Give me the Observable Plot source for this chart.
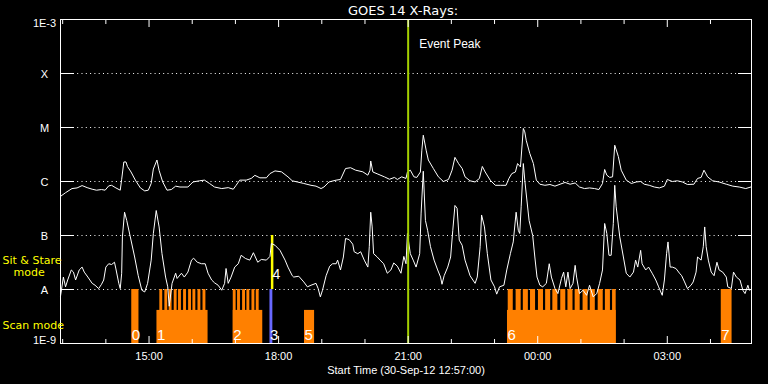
<!DOCTYPE html>
<html>
<head>
<meta charset="utf-8">
<script src="https://cdn.jsdelivr.net/npm/d3@7"></script>
<script src="https://cdn.jsdelivr.net/npm/@observablehq/plot@0.6"></script>
<style>
  html, body { margin: 0; padding: 0; background: #000; }
  #chart { width: 768px; height: 384px; overflow: hidden; }
</style>
</head>
<body>
<div id="chart"></div>
<script>
// ---------- DATA ----------
// Start time of the plot (UTC) and its span in minutes
const startTime = Date.UTC(2012, 8, 30, 12, 57);
const spanMinutes = 960;
const eventPeakMinute = 483; // 21:00

// GOES 14 long channel (1-8 Å), minutes after start / flux W m^-2
const longMinutes = [
  0,7,16,23,30,37,44,50,57,62,
  67,71,77,83,85,88,91,93,98,104,
  111,117,122,126,129,134,137,142,148,154,
  160,166,177,184,193,200,207,214,224,233,
  240,244,249,258,265,270,277,286,291,298,
  307,316,322,329,338,348,355,362,366,373,
  383,389,396,403,410,420,427,430,431,434,
  441,450,457,464,468,474,480,482,486,491,
  495,500,502,504,508,511,518,525,532,539,
  544,548,553,558,562,569,576,582,586,590,
  597,604,611,619,623,627,632,635,639,643,
  645,647,652,657,661,666,673,680,687,694,
  701,708,715,721,728,735,742,748,753,756,
  759,763,767,770,775,779,786,793,800,806,
  811,818,825,832,839,843,850,857,864,871,
  880,885,890,894,899,906,915,925,934,943,
  952,959
];
const longFlux = [
  5.3e-7,6.2e-7,7.4e-7,7.6e-7,8.4e-7,7.7e-7,7.2e-7,6.9e-7,7.1e-7,6.9e-7,
  8.3e-7,8.5e-7,7.6e-7,6.9e-7,1.1e-6,2.3e-6,2.3e-6,1.9e-6,1.5e-6,1.06e-6,
  7.6e-7,6.7e-7,6.9e-7,9.2e-7,1.7e-6,2.5e-6,1.6e-6,9.8e-7,6.9e-7,7.1e-7,
  8.2e-7,7.9e-7,7.9e-7,9.8e-7,1.03e-6,1.06e-6,9.2e-7,7.9e-7,7.4e-7,7.7e-7,
  7.2e-7,8.5e-7,1.06e-6,1.06e-6,1.14e-6,1.3e-6,1.17e-6,1.17e-6,1.4e-6,1.57e-6,
  1.51e-6,1.22e-6,1.03e-6,9.8e-7,9.2e-7,8.5e-7,8.2e-7,7.4e-7,7.9e-7,9.8e-7,
  1.06e-6,1.09e-6,1.74e-6,1.8e-6,1.62e-6,1.51e-6,1.31e-6,1.62e-6,2.4e-6,1.5e-6,
  1.37e-6,1.22e-6,1.1e-6,1.19e-6,1.09e-6,1.22e-6,1.14e-6,1.5e-6,1.62e-6,1.22e-6,
  1.19e-6,1.5e-6,3.8e-6,7.2e-6,3.8e-6,2.5e-6,1.74e-6,1.22e-6,1.0e-6,1.09e-6,
  1.62e-6,2.8e-6,2.15e-6,1.74e-6,1.22e-6,1.03e-6,9.8e-7,1.14e-6,1.9e-6,1.5e-6,
  1.06e-6,8.5e-7,8.5e-7,8.5e-7,1.14e-6,1.4e-6,1.5e-6,2.15e-6,1.86e-6,9.6e-6,
  8.3e-6,5.8e-6,3.3e-6,2.15e-6,1.06e-6,8.9e-7,8.5e-7,8.8e-7,8.2e-7,8.9e-7,
  9.6e-7,8.9e-7,9.4e-7,7.9e-7,7.4e-7,7.6e-7,7.4e-7,7.1e-7,9.2e-7,1.67e-6,
  1.31e-6,1.19e-6,1.22e-6,4.7e-6,2.9e-6,1.62e-6,1.06e-6,9.2e-7,9.8e-7,1.0e-6,
  8.9e-7,8.5e-7,7.9e-7,7.6e-7,8.2e-7,1.09e-6,1.0e-6,1.03e-6,9.8e-7,8.8e-7,
  8.9e-7,1.14e-6,1.19e-6,1.62e-6,1.22e-6,1.03e-6,9.8e-7,8.9e-7,8.2e-7,7.9e-7,
  7.4e-7,7.9e-7
];

// GOES 14 short channel (0.5-4 Å)
const shortMinutes = [
  0,4,7,10,15,18,21,26,30,33,
  38,44,48,53,57,60,63,67,71,75,
  77,81,83,85,86,89,92,97,103,108,
  113,117,121,126,129,133,137,141,146,149,
  151,155,160,162,168,172,177,182,185,190,
  196,201,205,210,214,219,224,228,230,233,
  237,242,247,251,257,263,268,274,279,286,
  291,293,298,305,312,316,322,324,331,338,
  343,348,355,358,361,364,369,374,378,383,
  385,389,393,396,401,406,408,413,417,422,
  427,429,431,433,435,440,444,449,454,459,
  463,468,473,477,480,482,486,490,494,499,
  501,504,507,510,514,519,524,528,530,533,
  538,542,545,548,551,554,558,562,569,576,
  579,583,585,589,593,598,603,606,610,616,
  620,625,629,633,636,638,640,643,645,646,
  651,656,659,662,666,670,675,679,682,687,
  691,696,699,702,705,708,712,715,717,721,
  726,731,735,740,745,749,753,756,759,762,
  765,768,770,772,777,782,786,791,796,799,
  802,806,808,813,817,822,827,831,834,836,
  839,842,844,847,850,855,860,863,867,871,
  876,879,883,885,890,893,895,897,900,904,
  908,912,915,920,925,927,932,935,939,944,
  948,951,955,957,959
];
const shortFlux = [
  7.5e-9,1.7e-8,1.12e-8,1.5e-8,2.3e-8,2.1e-8,1.5e-8,2.3e-8,2.6e-8,2.1e-8,
  1.7e-8,1.3e-8,1.2e-8,1.04e-8,1.25e-8,1.5e-8,2.6e-8,3.0e-8,2.9e-8,3.2e-8,
  2.4e-8,1.3e-8,1.04e-8,2.0e-8,9.4e-8,2.7e-7,1.9e-7,9.4e-8,4.0e-8,1.8e-8,
  9.7e-9,9.0e-9,1.3e-8,3.5e-8,1.09e-7,2.9e-7,1.44e-7,4.6e-8,1.7e-8,1.12e-8,
  4.9e-9,1.3e-8,2.0e-8,1.6e-8,2.0e-8,1.7e-8,2.1e-8,3.5e-8,3.8e-8,3.2e-8,
  3.0e-8,3.0e-8,2.0e-8,1.5e-8,1.33e-8,1.2e-8,9.7e-9,1.3e-8,2.45e-8,1.3e-8,
  1.7e-8,2.6e-8,3.0e-8,4.3e-8,3.75e-8,3.5e-8,4.8e-8,3.2e-8,3.6e-8,3.5e-8,
  4.1e-8,7.1e-8,6.6e-8,5.3e-8,3.5e-8,2.6e-8,1.8e-8,1.7e-8,1.76e-8,1.38e-8,
  1.12e-8,1.2e-8,1.3e-8,1.04e-8,7.3e-9,9.7e-9,1.8e-8,2.7e-8,3.0e-8,3.0e-8,
  3.5e-8,2.3e-8,4.0e-8,8.8e-8,8.4e-8,6.9e-8,5.0e-8,4.6e-8,5.0e-8,3.5e-8,
  2.6e-8,6.2e-8,2.7e-7,1.44e-7,4.6e-8,4.0e-8,3.5e-8,3.0e-8,2.0e-8,2.3e-8,
  3.1e-8,2.7e-8,2.0e-8,4.1e-8,3.0e-8,1.09e-7,4.6e-8,3.5e-8,2.6e-8,4.6e-8,
  2.6e-7,1.55e-6,1.9e-7,1.25e-7,6.2e-8,3.5e-8,2.3e-8,1.7e-8,1.25e-8,1.8e-8,
  2.6e-8,4.0e-8,1.25e-7,3.6e-7,3.2e-7,8.2e-8,6.6e-8,3.5e-8,1.8e-8,1.3e-8,
  1.7e-8,6.2e-8,2.4e-7,1.44e-7,4.6e-8,1.5e-8,1.12e-8,8.2e-9,1.12e-8,1.2e-8,
  2.3e-8,4.6e-8,7.6e-8,2.7e-7,1.25e-7,1.09e-7,3.4e-7,2.15e-6,1.06e-6,7.9e-7,
  1.9e-7,1.0e-7,4.0e-8,1.7e-8,1.2e-8,1.12e-8,1.3e-8,3.0e-8,1.7e-8,1.04e-8,
  8.4e-9,1.6e-8,2.1e-8,1.12e-8,2.1e-8,1.04e-8,1.3e-8,2.8e-8,1.7e-8,8.4e-9,
  9.7e-9,7.8e-9,1.2e-8,7.3e-9,8.4e-9,1.3e-8,2.3e-8,1.67e-7,1.09e-7,4.3e-8,
  4.3e-8,1.67e-7,8.5e-7,3.4e-7,9.4e-8,4.0e-8,2.0e-8,1.7e-8,2.1e-8,3.5e-8,
  2.6e-8,5.3e-8,3.0e-8,2.3e-8,2.6e-8,2.0e-8,1.5e-8,1.12e-8,9.0e-9,7.8e-9,
  1.5e-8,4.6e-8,7.6e-8,2.6e-8,2.6e-8,2.45e-8,2.0e-8,1.8e-8,1.38e-8,1.04e-8,
  1.2e-8,1.38e-8,2.1e-8,4.0e-8,3.5e-8,6.2e-8,1.44e-7,6.2e-8,3.5e-8,2.1e-8,
  1.8e-8,3.2e-8,2.3e-8,2.1e-8,1.7e-8,1.12e-8,1.04e-8,2.1e-8,1.7e-8,1.5e-8,
  9.7e-9,8.4e-9,1.2e-8,9.7e-9,1.0e-8
];

// Observing modes (minutes after start)
const scanStart = [134, 240, 339, 621];
const scanEnd   = [205, 281, 353, 772];
const stareStart = [99, 918,
  138,145,151,158,164,171,178,184,191,198,
  240,246,253,259,266,272,
  622,633,643,653,664,674,684,695,705,715,726,736,747,757,767];
const stareEnd = [109, 933,
  142,149,155,162,168,175,182,188,195,202,
  244,250,257,263,270,276,
  629,640,650,660,671,681,691,702,712,722,733,743,754,764,772];
const otherStart = [291];
const otherEnd = [295];
const markerMinute = 294;

const modeNumbers = ["0", "1", "2", "3", "5", "6", "7"];
const modeNumberMinute = [99, 134, 240, 291, 339, 621, 918];

// Y axis levels and labels
const levelValues = [1e-3, 1e-4, 1e-5, 1e-6, 1e-7, 1e-8, 1e-9];
const levelLabels = ["1E-3", "X", "M", "C", "B", "A", "1E-9"];
const scanTopFlux = 4.1e-9;

// ---------- BUILD ----------
const toDate = m => new Date(startTime + m * 60000);
const longData = longMinutes.map((m, i) => ({t: toDate(m), f: longFlux[i]}));
const shortData = shortMinutes.map((m, i) => ({t: toDate(m), f: shortFlux[i]}));
const scanData = scanStart.map((s, i) => ({a: toDate(s), b: toDate(scanEnd[i]), lo: 1e-9, hi: scanTopFlux}));
const stareData = stareStart.map((s, i) => ({a: toDate(s), b: toDate(stareEnd[i]), lo: 1e-9, hi: 1e-8}));
const otherData = otherStart.map((s, i) => ({a: toDate(s), b: toDate(otherEnd[i]), lo: 1e-9, hi: 1e-8}));
const markerData = [{t: toDate(markerMinute), lo: 1e-8, hi: 1e-7, n: "4"}];
const numberData = modeNumbers.map((n, i) => ({n, t: toDate(modeNumberMinute[i])}));
const levels = levelValues.map((v, i) => ({v, label: levelLabels[i]}));
const gridLevels = levelValues.slice(1, -1);

const t0 = toDate(0), t1 = toDate(spanMinutes);
const hourTicks = d3.utcHour.range(t0, t1);
const majorTicks = hourTicks.filter(d => d.getUTCHours() % 3 === 0);
const minorTicks = hourTicks.filter(d => d.getUTCHours() % 3 !== 0);
const peakDate = toDate(eventPeakMinute);

const orange = "#ff8000";
const yellow = "#ffff00";
const blank = () => "";

const chart = Plot.plot({
  width: 768,
  height: 384,
  marginLeft: 60,
  marginRight: 17,
  marginTop: 19,
  marginBottom: 41,
  style: {background: "black", color: "white", fontFamily: "'Liberation Sans', Arial, sans-serif", fontSize: "11px"},
  x: {type: "utc", domain: [t0, t1]},
  y: {type: "log", domain: [1e-9, 1e-3]},
  marks: [
    Plot.ruleY(gridLevels, {stroke: "white", strokeDasharray: "1,3.3"}),
    Plot.rect(scanData, {x1: "a", x2: "b", y1: "lo", y2: "hi", fill: orange}),
    Plot.rect(stareData, {x1: "a", x2: "b", y1: "lo", y2: "hi", fill: orange}),
    Plot.rect(otherData, {x1: "a", x2: "b", y1: "lo", y2: "hi", fill: "#6868ff"}),
    Plot.ruleX(markerData, {x: "t", y1: "lo", y2: "hi", stroke: yellow, strokeWidth: 2.5}),
    Plot.line(longData, {x: "t", y: "f", stroke: "white", strokeWidth: 1}),
    Plot.line(shortData, {x: "t", y: "f", stroke: "white", strokeWidth: 1}),
    Plot.ruleX([peakDate], {stroke: "#a4d000", strokeWidth: 2}),
    Plot.frame({stroke: "white"}),
    // x ticks (inward)
    Plot.axisX(majorTicks, {anchor: "bottom", tickSize: -7, tickFormat: blank, label: null}),
    Plot.axisX(minorTicks, {anchor: "bottom", tickSize: -4, tickFormat: blank, label: null}),
    Plot.axisX(majorTicks, {anchor: "top", tickSize: -7, tickFormat: blank, label: null}),
    Plot.axisX(minorTicks, {anchor: "top", tickSize: -4, tickFormat: blank, label: null}),
    Plot.axisX(majorTicks, {anchor: "bottom", tickSize: 0, tickPadding: 8.5, tickFormat: d3.utcFormat("%H:%M"), label: null, fontSize: 11}),
    // y ticks (inward, both sides)
    Plot.axisY(gridLevels, {anchor: "left", tickSize: -14, tickFormat: blank, label: null}),
    Plot.axisY(gridLevels, {anchor: "right", tickSize: -14, tickFormat: blank, label: null}),
    // y labels
    Plot.text(levels.filter(d => d.v === 1e-3), {y: "v", text: "label", frameAnchor: "left", dx: -16, dy: 4, textAnchor: "middle", fill: "white", fontSize: 11}),
    Plot.text(levels.filter(d => d.v < 1e-3 && d.v > 1e-9), {y: "v", text: "label", frameAnchor: "left", dx: -16, dy: 1, textAnchor: "middle", fill: "white", fontSize: 11}),
    Plot.text(levels.filter(d => d.v === 1e-9), {y: "v", text: "label", frameAnchor: "left", dx: -16, dy: -3, textAnchor: "middle", fill: "white", fontSize: 11}),
    // mode numbers
    Plot.text(numberData, {x: "t", text: "n", frameAnchor: "bottom", dy: -4, textAnchor: "start", lineAnchor: "bottom", fill: "white", fontSize: 15}),
    Plot.text(markerData, {x: "t", y: "lo", text: "n", dy: -11, dx: 0.5, textAnchor: "start", lineAnchor: "bottom", fill: "white", fontSize: 14}),
    // annotations
    Plot.text([{t: peakDate, s: "Event Peak"}], {x: "t", text: "s", frameAnchor: "top", dx: 11, dy: 28, textAnchor: "start", lineAnchor: "bottom", fill: "white", fontSize: 12}),
    Plot.text(["GOES 14 X-Rays:"], {text: d => d, frameAnchor: "top", dx: -3, dy: -5, lineAnchor: "bottom", fill: "white", fontSize: 13, fontFamily: "'DejaVu Sans', sans-serif"}),
    Plot.text(["Start Time (30-Sep-12 12:57:00)"], {text: d => d, frameAnchor: "bottom", dy: 30, lineAnchor: "bottom", fill: "white", fontSize: 11}),
    Plot.text(["Sit & Stare"], {text: d => d, frameAnchor: "bottom-left", dx: -58, dy: -80, textAnchor: "start", lineAnchor: "bottom", fill: yellow, fontSize: 11, fontFamily: "'DejaVu Sans', sans-serif"}),
    Plot.text(["mode"], {text: d => d, frameAnchor: "bottom-left", dx: -47, dy: -68, textAnchor: "start", lineAnchor: "bottom", fill: yellow, fontSize: 11, fontFamily: "'DejaVu Sans', sans-serif"}),
    Plot.text(["Scan mode"], {text: d => d, frameAnchor: "bottom-left", dx: -58, dy: -15, textAnchor: "start", lineAnchor: "bottom", fill: yellow, fontSize: 11, fontFamily: "'DejaVu Sans', sans-serif"})
  ]
});
document.getElementById("chart").appendChild(chart);
</script>
</body>
</html>
